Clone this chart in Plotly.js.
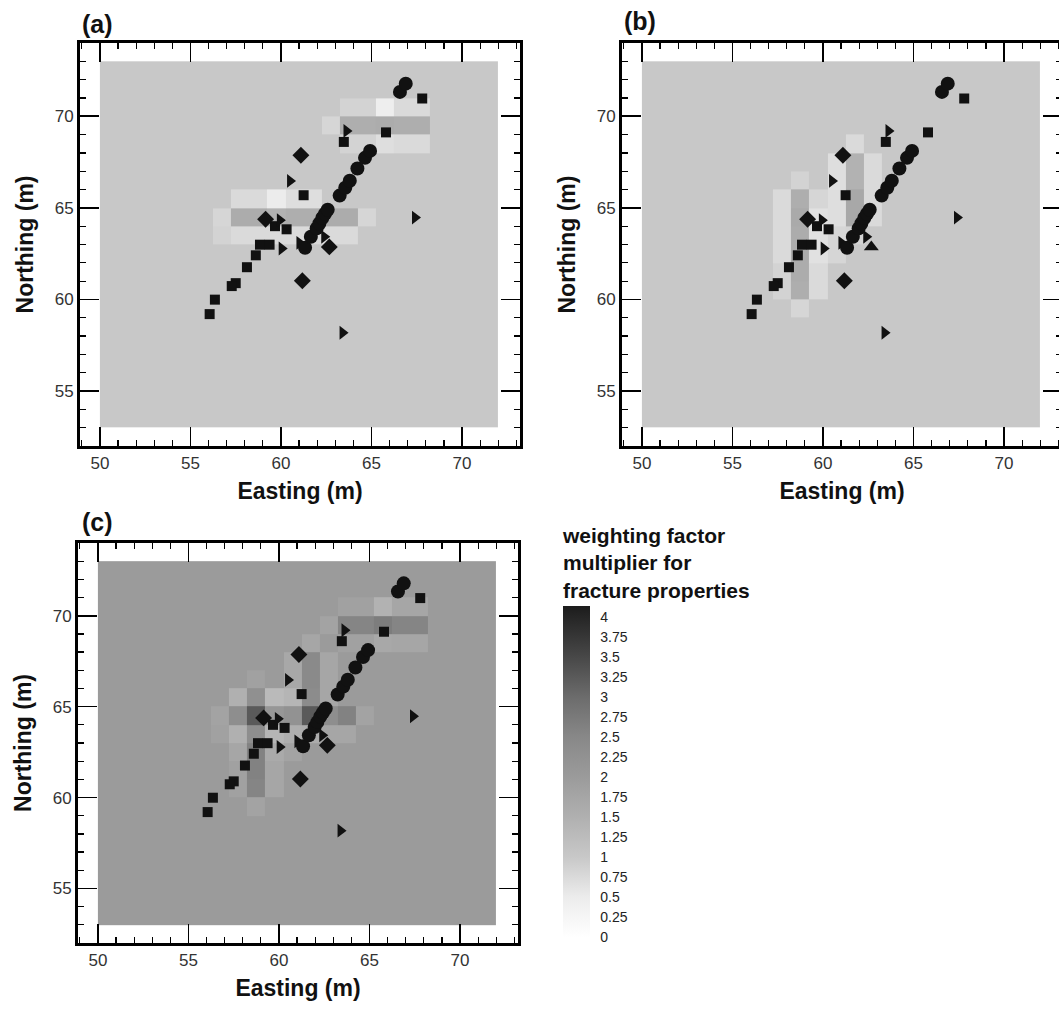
<!DOCTYPE html>
<html><head><meta charset="utf-8">
<script src="https://cdn.plot.ly/plotly-3.0.1.min.js"></script>
<style>html,body{margin:0;padding:0;overflow:hidden;background:#fff}#chart{width:1075px;height:1014px}</style>
</head><body><div id="chart"></div>
<script>
// ---------- DATA ----------
// grid cell edges (m)
const X_EDGES = [50,51.25,52.25,53.25,54.25,55.25,56.25,57.25,58.25,59.25,60.25,61.25,62.25,63.25,64.25,65.25,66.25,67.25,68.25,69.25,70.25,71.25,72];
const Y_EDGES = [53,54,55,56,57,58,59,60,61,62,63,64,65,66,67,68,69,70,71,72,73];

// background weighting factor of each panel
const BG_A = 1.0, BG_B = 1.0, BG_C = 2.0;

// cells that differ from background: [cell west edge, cell south edge, value]
const CELLS_A = [
  [63.25,70,0.85],[64.25,70,0.85],[65.25,70,0.45],[66.25,70,0.75],[67.25,70,0.75],
  [62.25,69,0.8],[63.25,69,1.55],[64.25,69,1.55],[65.25,69,1.6],[66.25,69,1.55],[67.25,69,1.55],
  [63.25,68,0.85],[64.25,68,0.85],[65.25,68,0.7],[66.25,68,0.75],[67.25,68,0.75],
  [57.25,65,0.75],[58.25,65,0.75],[59.25,65,0.5],[60.25,65,0.7],[61.25,65,0.7],
  [56.25,64,0.8],[57.25,64,1.6],[58.25,64,1.6],[59.25,64,1.45],[60.25,64,1.55],[61.25,64,1.55],[62.25,64,1.6],[63.25,64,1.6],[64.25,64,0.8],
  [56.25,63,0.85],[57.25,63,0.75],[58.25,63,0.75],[59.25,63,0.75],[60.25,63,0.75],[61.25,63,0.75],[62.25,63,0.75],[63.25,63,0.75]
];
const CELLS_B = [
  [57.25,60,0.85],[57.25,61,0.85],[57.25,62,0.75],[57.25,63,0.75],[57.25,64,0.75],[57.25,65,0.75],
  [58.25,59,0.8],[58.25,60,1.55],[58.25,61,1.6],[58.25,62,1.6],[58.25,63,1.6],[58.25,64,1.65],[58.25,65,1.55],[58.25,66,0.85],
  [59.25,60,0.75],[59.25,61,0.75],[59.25,62,0.65],[59.25,63,0.65],[59.25,64,0.65],[59.25,65,0.8],
  [60.25,62,0.8],[60.25,63,0.8],[60.25,64,0.7],[60.25,65,0.7],[60.25,66,0.7],[60.25,67,0.7],
  [61.25,63,0.85],[61.25,64,1.7],[61.25,65,1.7],[61.25,66,1.45],[61.25,67,1.45],[61.25,68,0.75],
  [62.25,64,0.75],[62.25,65,0.75],[62.25,66,0.75],[62.25,67,0.75]
];
const CELLS_C = [
  [63.25,70,1.85],[64.25,70,1.85],[65.25,70,1.45],[66.25,70,1.75],[67.25,70,1.75],
  [62.25,69,1.8],[63.25,69,2.55],[64.25,69,2.55],[65.25,69,2.7],[66.25,69,2.55],[67.25,69,2.55],
  [61.25,68,1.75],[63.25,68,1.85],[64.25,68,1.85],[65.25,68,1.7],[66.25,68,1.75],[67.25,68,1.75],
  [60.25,67,1.7],[61.25,67,2.45],[62.25,67,1.75],
  [58.25,66,1.85],[60.25,66,1.7],[61.25,66,2.45],[62.25,66,1.75],
  [57.25,65,1.5],[58.25,65,2.3],[59.25,65,1.3],[60.25,65,1.4],[61.25,65,2.4],[62.25,65,1.75],
  [56.25,64,1.8],[57.25,64,2.35],[58.25,64,3.25],[59.25,64,2.1],[60.25,64,2.25],[61.25,64,3.25],[62.25,64,2.35],[63.25,64,2.6],[64.25,64,1.8],
  [56.25,63,1.85],[57.25,63,1.5],[58.25,63,2.35],[59.25,63,1.4],[60.25,63,1.55],[61.25,63,1.6],[62.25,63,1.75],[63.25,63,1.75],
  [57.25,62,1.75],[58.25,62,2.6],[59.25,62,1.65],[60.25,62,1.8],
  [57.25,61,1.85],[58.25,61,2.6],[59.25,61,1.75],
  [57.25,60,1.85],[58.25,60,2.55],[59.25,60,1.75],
  [58.25,59,1.8]
];

// well / borehole locations (Easting, Northing in m)
const CIRCLE_X = [61.33,61.65,61.97,62.12,62.28,62.43,62.58,63.24,63.55,63.8,64.22,64.64,64.92,66.57,66.89];
const CIRCLE_Y = [62.82,63.42,63.88,64.15,64.45,64.68,64.9,65.67,66.1,66.48,67.15,67.73,68.11,71.33,71.78];
const SQUARE_X = [67.8,65.8,63.47,61.25,59.67,60.31,58.84,59.37,58.61,58.12,57.5,57.28,56.35,56.06];
const SQUARE_Y = [70.97,69.12,68.6,65.69,64.0,63.83,62.99,62.99,62.41,61.76,60.89,60.73,59.99,59.2];
const TRI_X = [63.62,60.5,67.4,59.94,60.04,61.02,62.39,63.4];
const TRI_Y = [69.2,66.47,64.47,64.33,62.78,63.09,63.42,58.18];
const DIAMOND_X = [61.1,59.15,62.67,61.18];
const DIAMOND_Y = [67.87,64.38,62.87,61.02];
const DIAMOND_SYMBOLS_B = ['diamond','diamond','triangle-up','diamond'];

// legend levels
const LEVELS = [0,0.25,0.5,0.75,1,1.25,1.5,1.75,2,2.25,2.5,2.75,3,3.25,3.5,3.75,4];
const LEVEL_TEXT = ['0','0.25','0.5','0.75','1','1.25','1.5','1.75','2','2.25','2.5','2.75','3','3.25','3.5','3.75','4'];
const LEGEND_TITLE = 'weighting factor<br>multiplier for<br>fracture properties';
// grey shade of each value (value, grey level 0-255)
const SHADE_VALUES = [0,0.5,1,1.5,2,2.5,3,3.5,4,4.14];
const SHADE_GREYS  = [255,236,200,176,155,136,108,72,38,28];

// ---------- BUILD ----------
const W = 1075, H = 1014;
const ZMAX = 4.14;
const FONT = 'Liberation Sans, Arial, Helvetica, sans-serif';

function buildZ(bg, cells){
  const z = [];
  for (let j = 0; j < Y_EDGES.length - 1; j++){
    const row = [];
    for (let i = 0; i < X_EDGES.length - 1; i++) row.push(bg);
    z.push(row);
  }
  cells.forEach(c => {
    const i = X_EDGES.indexOf(c[0]);
    const j = Y_EDGES.indexOf(c[1]);
    if (i >= 0 && j >= 0) z[j][i] = c[2];
  });
  return z;
}
const colorscale = SHADE_VALUES.map((v,k) => {
  const g = SHADE_GREYS[k];
  return [v / ZMAX, 'rgb(' + g + ',' + g + ',' + g + ')'];
});

function heat(z, xa, ya, showscale){
  const t = {type:'heatmap', x:X_EDGES, y:Y_EDGES, z:z, xaxis:xa, yaxis:ya,
    zmin:0, zmax:ZMAX, colorscale:colorscale, showscale:showscale, hoverinfo:'skip'};
  if (showscale){
    t.colorbar = {x:563/W, xanchor:'left', y:1-606/H, yanchor:'top',
      len:331, lenmode:'pixels', thickness:27, thicknessmode:'pixels',
      xpad:0, ypad:0, outlinewidth:0, tickvals:LEVELS, ticktext:LEVEL_TEXT,
      ticks:'outside', ticklen:8, tickcolor:'rgba(0,0,0,0)',
      tickfont:{family:FONT, size:14, color:'#222'}};
  }
  return t;
}
function markers(xa, ya, diamondSymbols){
  const m = {color:'#111', line:{width:0}};
  return [
    {type:'scatter', mode:'markers', x:SQUARE_X, y:SQUARE_Y, xaxis:xa, yaxis:ya, marker:Object.assign({symbol:'square', size:10}, m), hoverinfo:'skip'},
    {type:'scatter', mode:'markers', x:TRI_X, y:TRI_Y, xaxis:xa, yaxis:ya, marker:Object.assign({symbol:'triangle-right', size:12}, m), hoverinfo:'skip'},
    {type:'scatter', mode:'markers', x:DIAMOND_X, y:DIAMOND_Y, xaxis:xa, yaxis:ya, marker:Object.assign({symbol:diamondSymbols, size:13}, m), hoverinfo:'skip'},
    {type:'scatter', mode:'markers', x:CIRCLE_X, y:CIRCLE_Y, xaxis:xa, yaxis:ya, marker:Object.assign({symbol:'circle', size:14}, m), hoverinfo:'skip'}
  ];
}

const diamondsA = DIAMOND_X.map(() => 'diamond');
const data = [
  heat(buildZ(BG_A, CELLS_A), 'x', 'y', false),
  ...markers('x', 'y', diamondsA),
  heat(buildZ(BG_B, CELLS_B), 'x2', 'y2', false),
  ...markers('x2', 'y2', DIAMOND_SYMBOLS_B),
  heat(buildZ(BG_C, CELLS_C), 'x3', 'y3', true),
  ...markers('x3', 'y3', diamondsA)
];

function axis(domain, range, anchor, titleText, isY){
  return {
    domain:domain, range:range, anchor:anchor, showgrid:false, zeroline:false,
    showline:true, linewidth:3, linecolor:'#000', mirror:'allticks',
    ticks:'inside', ticklen:19, tickwidth:1.6, tickcolor:'#000', dtick:5, tick0:0,
    minor:{dtick:1, ticks:'inside', ticklen:6, tickwidth:1.2, tickcolor:'#000'},
    tickfont:{family:FONT, size:17, color:'#333'},
    title:{text:'<b>' + titleText + '</b>', font:{family:FONT, size:23, color:'#111'}, standoff: isY ? 15 : 11},
    fixedrange:true, automargin:false, layer:'above traces'
  };
}
const XR = [48.9, 73.2], YR = [52, 74];
const layout = {
  width:W, height:H, margin:{l:0, r:0, t:0, b:0}, paper_bgcolor:'#fff', plot_bgcolor:'#fff',
  showlegend:false, font:{family:FONT, color:'#111'},
  xaxis: axis([80/W, 520/W], XR, 'y', 'Easting (m)', false),
  yaxis: axis([1-446/H, 1-43/H], YR, 'x', 'Northing (m)', true),
  xaxis2: axis([622/W, 1062/W], XR, 'y2', 'Easting (m)', false),
  yaxis2: axis([1-446/H, 1-43/H], YR, 'x2', 'Northing (m)', true),
  xaxis3: axis([78/W, 518/W], XR, 'y3', 'Easting (m)', false),
  yaxis3: axis([1-943/H, 1-543/H], YR, 'x3', 'Northing (m)', true),
  annotations: [
    {text:'<b>(a)</b>', xref:'paper', yref:'paper', x:80/W, y:1-24/H, xanchor:'left', yanchor:'middle', showarrow:false, font:{family:FONT, size:25, color:'#111'}},
    {text:'<b>(b)</b>', xref:'paper', yref:'paper', x:622/W, y:1-21/H, xanchor:'left', yanchor:'middle', showarrow:false, font:{family:FONT, size:25, color:'#111'}},
    {text:'<b>(c)</b>', xref:'paper', yref:'paper', x:80/W, y:1-522/H, xanchor:'left', yanchor:'middle', showarrow:false, font:{family:FONT, size:25, color:'#111'}},
    {text:'<b>' + LEGEND_TITLE + '</b>', xref:'paper', yref:'paper', x:560/W, y:1-563/H, xanchor:'left', yanchor:'middle', align:'left', showarrow:false, font:{family:FONT, size:21, color:'#111'}}
  ]
};
Plotly.newPlot('chart', data, layout, {staticPlot:true, displayModeBar:false});
</script>
</body></html>
